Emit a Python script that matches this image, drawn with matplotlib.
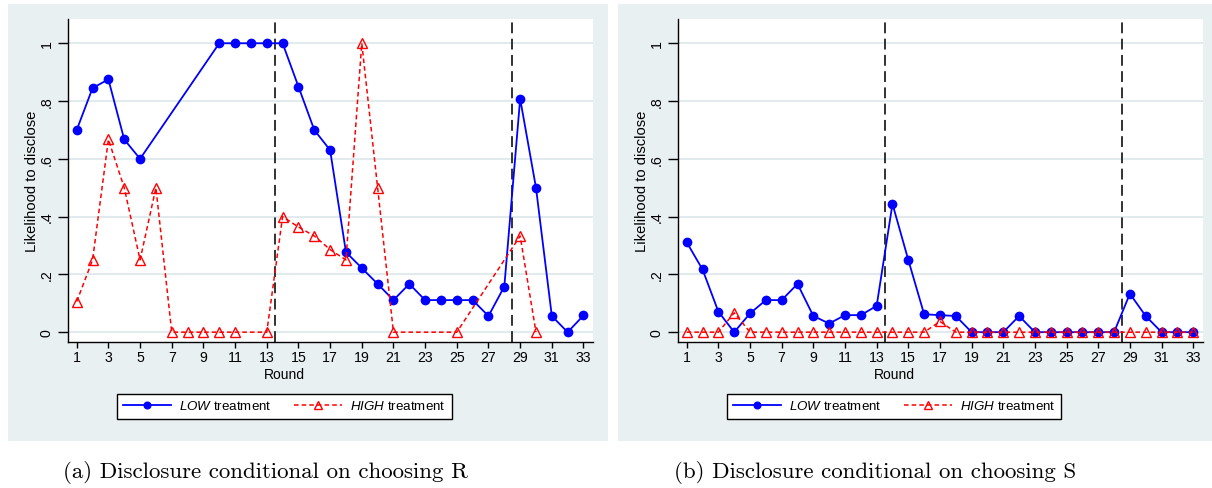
import matplotlib

matplotlib.use("Agg")
import matplotlib.pyplot as plt
import numpy as np
from matplotlib.patches import Rectangle

plt.rcParams["font.family"] = ["Liberation Sans", "DejaVu Sans"]
plt.rcParams["mathtext.fontset"] = "custom"
plt.rcParams["mathtext.it"] = "Liberation Sans:italic"
plt.rcParams["mathtext.rm"] = "Liberation Sans"

# Panel (a): disclosure conditional on choosing R
r_low_rounds = [1, 2, 3, 4, 5, 10, 11, 12, 13, 14, 15, 16, 17, 18, 19, 20, 21,
                22, 23, 24, 25, 26, 27, 28, 29, 30, 31, 32, 33]
r_low = [0.70, 0.845, 0.875, 0.667, 0.60, 1.0, 1.0, 1.0, 1.0, 1.0, 0.85, 0.70,
         0.63, 0.277, 0.222, 0.167, 0.111, 0.167, 0.111, 0.111, 0.111, 0.111,
         0.056, 0.158, 0.808, 0.50, 0.056, 0.0, 0.058]
r_high_rounds = [1, 2, 3, 4, 5, 6, 7, 8, 9, 10, 11, 13, 14, 15, 16, 17, 18,
                 19, 20, 21, 25, 29, 30]
r_high = [0.106, 0.25, 0.667, 0.50, 0.25, 0.50, 0.0, 0.0, 0.0, 0.0, 0.0, 0.0,
          0.40, 0.364, 0.333, 0.286, 0.25, 1.0, 0.50, 0.0, 0.0, 0.333, 0.0]

# Panel (b): disclosure conditional on choosing S
s_low_rounds = list(range(1, 34))
s_low = [0.311, 0.217, 0.071, 0.0, 0.065, 0.111, 0.111, 0.167, 0.056, 0.03,
         0.059, 0.059, 0.091, 0.444, 0.25, 0.062, 0.059, 0.056, 0.0, 0.0, 0.0,
         0.056, 0.0, 0.0, 0.0, 0.0, 0.0, 0.0, 0.133, 0.056, 0.0, 0.0, 0.0]
s_high_rounds = list(range(1, 34))
s_high = [0.0, 0.0, 0.0, 0.067, 0.0, 0.0, 0.0, 0.0, 0.0, 0.0, 0.0, 0.0, 0.0,
          0.0, 0.0, 0.0, 0.037, 0.0, 0.0, 0.0, 0.0, 0.0, 0.0, 0.0, 0.0, 0.0,
          0.0, 0.0, 0.0, 0.0, 0.0, 0.0, 0.0]

x_ticks = list(range(1, 34, 2))
y_ticks = [0, 0.2, 0.4, 0.6, 0.8, 1.0]
y_tick_labels = ["0", ".2", ".4", ".6", ".8", "1"]
breaks = [13.5, 28.5]
captions = ["(a) Disclosure conditional on choosing R",
            "(b) Disclosure conditional on choosing S"]

BG = "#e8f0f2"
GRID = "#dce7eb"
W, H = 1212, 489

fig = plt.figure(figsize=(W / 100, H / 100), dpi=100)


def fx(px):
    return px / W


def fy(py):
    return 1 - py / H


panels = [
    dict(bg=(8, 608), ax=(67.7, 593), low=(r_low_rounds, r_low),
         high=(r_high_rounds, r_high)),
    dict(bg=(618, 1212), ax=(677.7, 1202.7), low=(s_low_rounds, s_low),
         high=(s_high_rounds, s_high)),
]

for i, pnl in enumerate(panels):
    bx0, bx1 = pnl["bg"]
    fig.patches.append(Rectangle((fx(bx0), fy(442)), fx(bx1 - bx0), 437 / H,
                                 transform=fig.transFigure, facecolor=BG,
                                 edgecolor="none", zorder=-5))
    ax0, ax1 = pnl["ax"]
    ax = fig.add_axes([fx(ax0), fy(343), fx(ax1 - ax0), 323 / H])
    ax.set_facecolor("white")

    ax.plot(*pnl["low"], color="#0000ff", lw=1.3, marker="o", ms=6,
            label=r"$\it{LOW}$ treatment", zorder=3)
    ax.plot(*pnl["high"], color="#ff0000", lw=1.1, ls=(0, (3, 2)), marker="^",
            ms=6.8, mfc="none", mew=1.0, label=r"$\it{HIGH}$ treatment",
            zorder=4)
    for b in breaks:
        ax.axvline(b, color="#222222", lw=1.3, ls=(0, (6, 3)), zorder=2)

    ax.set_xlim(0.43, 33.6)
    ax.set_ylim(-0.034, 1.084)
    ax.set_xticks(x_ticks)
    ax.set_yticks(y_ticks)
    ax.set_yticklabels(y_tick_labels, rotation=90, va="center")
    ax.grid(axis="y", color=GRID, lw=1.2)
    ax.set_axisbelow(True)
    for s in ("top", "right"):
        ax.spines[s].set_visible(False)
    for s in ("left", "bottom"):
        ax.spines[s].set_linewidth(1.0)
    ax.tick_params(axis="x", length=4, width=1, pad=2, labelsize=10.2)
    ax.tick_params(axis="y", length=7, width=1, pad=3, labelsize=10.2)

    ax.set_xlabel("Round", fontsize=10)
    ax.xaxis.set_label_coords(0.4127, -0.099)
    ax.xaxis.label.set_va("center")
    ax.set_ylabel("Likelihood to disclose", fontsize=10.6)
    ax.yaxis.set_label_coords(-0.068, 0.5)
    ax.yaxis.label.set_va("center")

    # legend sits under the axis, centred on the grey panel area
    leg_cx = 284.5 if i == 0 else 894
    leg = fig.legend(handles=ax.get_lines()[:2], loc="center",
                     bbox_to_anchor=(fx(leg_cx), fy(407)), ncol=2,
                     fontsize=9.6, frameon=True, fancybox=False,
                     edgecolor="black", framealpha=1, handlelength=3.6,
                     handletextpad=0.6, columnspacing=1.7, borderpad=0.45,
                     markerscale=0.8)
    leg.get_frame().set_linewidth(1.0)

    cap_cx = 265.5 if i == 0 else 875
    fig.text(fx(cap_cx), fy(472), captions[i], ha="center", va="center",
             fontsize=16.5, family="cmr10")

fig.savefig("out.png", dpi=100)
